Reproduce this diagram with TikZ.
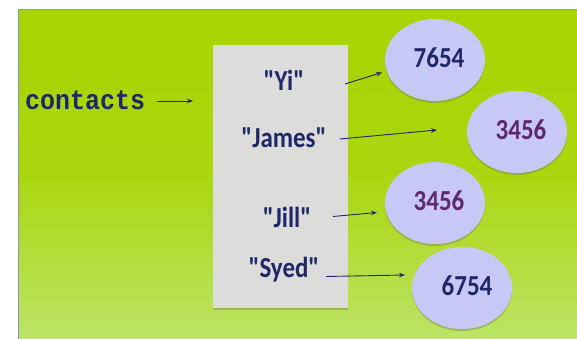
\documentclass[tikz,border=0pt]{standalone}
\usepackage{fontspec}
\usepackage{graphicx}
\setmainfont{Carlito}[Ligatures=TeXOff]
\newfontfamily\codefont{Liberation Mono}
\usetikzlibrary{shapes.geometric,arrows.meta,shadows}
\definecolor{navy}{RGB}{30,40,105}
\definecolor{plum}{RGB}{95,40,105}
\definecolor{gtop}{RGB}{168,212,0}
\definecolor{gbot}{RGB}{188,228,105}
\definecolor{panelline}{RGB}{130,150,185}
\definecolor{boxgray}{RGB}{220,220,218}
\definecolor{lav}{RGB}{200,200,246}
\newcommand\qq{\symbol{34}}
\newcommand\narrow[1]{\scalebox{0.86}[1]{#1}}
\tikzset{
  keytext/.style={font=\fontsize{29}{31}\selectfont\bfseries, text=navy, inner sep=0pt},
  bubble/.style={ellipse, fill=lav, minimum width=100pt, minimum height=82pt, inner sep=0pt,
     font=\fontsize{29}{31}\selectfont\bfseries,
     drop shadow={shadow xshift=0pt, shadow yshift=-2pt, opacity=0.35, fill=black!60}},
  arr/.style={draw=navy, line width=0.9pt, -{Stealth[length=6pt,width=4.5pt]}},
}
\begin{document}
\begin{tikzpicture}[x=1pt,y=-1pt]
\useasboundingbox (0,0) rectangle (577,339);
\fill[white] (0,0) rectangle (577,339);
% panel
\shade[top color=gtop, bottom color=gbot, middle color=gtop!85!gbot] (18.5,9.5) rectangle (580,342);
\draw[panelline, line width=1pt] (18.5,342) -- (18.5,9.5) -- (580,9.5);
% map box
\node[fill=boxgray, minimum width=135pt, minimum height=263pt, inner sep=0pt,
      drop shadow={shadow xshift=0pt, shadow yshift=-2pt, opacity=0.35, fill=black!60}]
      (box) at (280.5,176.5) {};
% label
\node[font=\codefont\fontsize{25}{27}\selectfont\bfseries, text=navy, inner sep=0pt, anchor=west]
      (contacts) at (25,100) {\scalebox{1}[1.12]{contacts}};
\coordinate (cend) at (193,101);
\draw[arr] (contacts.east) ++(12,1) -- (cend);
% keys
\node[keytext] (yi) at (284,80) {\narrow{\qq Yi\qq}};
\node[keytext] (james) at (284,138) {\narrow{\qq James\qq}};
\node[keytext] (jill) at (287,217) {\narrow{\qq Jill\qq}};
\node[keytext] (syed) at (284,270) {\narrow{\qq Syed\qq}};
% values
\node[bubble] (v1) at (435,60) {\raisebox{5pt}{\hspace{8pt}\narrow{\color{navy}7654}}};
\node[bubble] (v2) at (517,132) {\raisebox{4pt}{\hspace{8pt}\narrow{\color{plum}3456}}};
\node[bubble] (v3) at (435,203) {\raisebox{5pt}{\hspace{8pt}\narrow{\color{plum}3456}}};
\node[bubble] (v4) at (462,288) {\raisebox{5pt}{\hspace{10pt}\narrow{\color{navy}6754}}};
% arrows
\coordinate (s1) at (345,84);
\coordinate (s2) at (340,139);
\coordinate (s3) at (333,216.5);
\coordinate (s4) at (326,276.5);
\coordinate (e1) at (382,72.5);
\coordinate (e2) at (437,130);
\coordinate (e3) at (377,212.5);
\coordinate (e4) at (405,275);
\draw[arr] (s1) -- (e1);
\draw[arr] (s2) -- (e2);
\draw[arr] (s3) -- (e3);
\draw[arr] (s4) -- (e4);
\end{tikzpicture}
\end{document}
